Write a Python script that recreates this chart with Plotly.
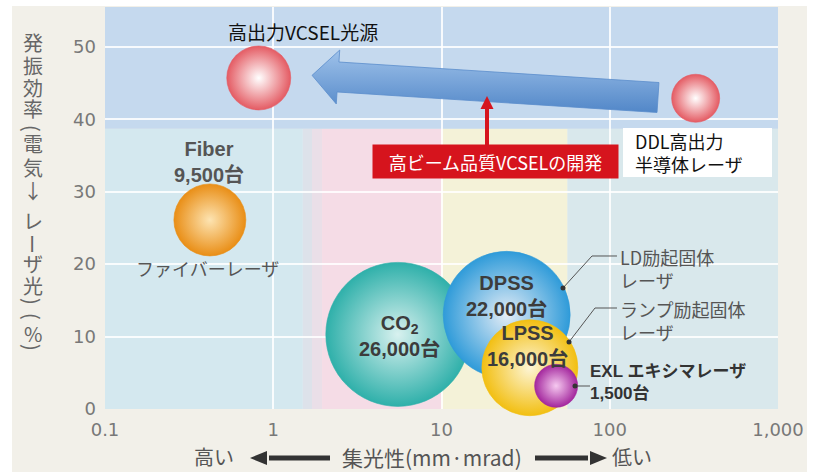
import math
import plotly.graph_objects as go

# ---- data -------------------------------------------------------------
names = ["高出力VCSEL光源", "DDL高出力半導体レーザ", "Fiber", "CO2", "DPSS", "LPSS", "EXL"]
beam_quality = [0.82, 324, 0.42, 5.5, 24.4, 33.5, 48]      # mm·mrad
efficiency = [45.7, 42.9, 26.1, 10.3, 13.0, 5.7, 3.2]      # %
units = [None, None, 9500, 26000, 22000, 16000, 1500]      # 台

x_tickvals = [0.1, 1, 10, 100, 1000]
x_ticktext = ["0.1", "1", "10", "100", "1,000"]
y_tickvals = [0, 10, 20, 30, 40, 50]

# ---- styling ----------------------------------------------------------
diameters = [64, 48, 72, 144, 127, 96, 43]
edge_colors = ["#e45b63", "#e45b63", "#e98e16", "#2fb0aa", "#2f9bd9", "#f2bf12", "#a3279d"]
core_colors = ["#ffffff", "#ffffff", "#fde4b2", "#d8f1ef", "#e3ecf6", "#fdf5d6", "#f6c9f0"]

W, H = 820, 472
L, R, T, B = 105, 42, 7, 63
PW, PH = W - L - R, H - T - B
XR = [-1, 3]
YR = [0, 55.5]

JP = "Noto Sans CJK JP"
MIX = "Liberation Sans, Noto Sans CJK JP"


def px_paper(px, py):
    return (px - L) / PW, (H - B - py) / PH


def px_data(px, py):
    lx = XR[0] + (px - L) / PW * (XR[1] - XR[0])
    return 10 ** lx, YR[0] + (H - B - py) / PH * (YR[1] - YR[0])


def xfrac(x):
    return (math.log10(x) - XR[0]) / (XR[1] - XR[0])


def path_of(points, close=False):
    pp = [px_paper(*p) for p in points]
    s = "M " + " L ".join(f"{a:.5f},{b:.5f}" for a, b in pp)
    return s + (" Z" if close else "")


fig = go.Figure()

# ---- big blue arrow (DDL -> VCSEL) -------------------------------------
tail = (658, 97.5)
base = (338, 77)
dx, dy = base[0] - tail[0], base[1] - tail[1]
ln = math.hypot(dx, dy)
ux, uy = dx / ln, dy / ln
nx, ny = -uy, ux
tip = (base[0] + ux * 26, base[1] + uy * 26)
sw, hw = 15, 27
poly = [
    (tail[0] + nx * sw, tail[1] + ny * sw),
    (base[0] + nx * sw, base[1] + ny * sw),
    (base[0] + nx * hw, base[1] + ny * hw),
    tip,
    (base[0] - nx * hw, base[1] - ny * hw),
    (base[0] - nx * sw, base[1] - ny * sw),
    (tail[0] - nx * sw, tail[1] - ny * sw),
]
poly.append(poly[0])
ax_pts = [px_data(*p) for p in poly]
fig.add_trace(go.Scatter(
    x=[p[0] for p in ax_pts], y=[p[1] for p in ax_pts],
    mode="lines", fill="toself", line=dict(color="#5a8dcc", width=0.8),
    fillgradient=dict(type="vertical",
                      colorscale=[[0, "#5287c8"], [1, "#9fc2ea"]]),
    hoverinfo="skip", showlegend=False,
))

# ---- bubbles -----------------------------------------------------------
for i in range(len(names)):
    fig.add_trace(go.Scatter(
        x=[beam_quality[i]], y=[efficiency[i]], mode="markers",
        marker=dict(size=diameters[i], color=edge_colors[i],
                    gradient=dict(type="radial", color=core_colors[i]),
                    line=dict(width=0.6, color=edge_colors[i]), opacity=1),
        name=names[i], showlegend=False, cliponaxis=False,
        hoverinfo="name",
    ))

# ---- background shapes -------------------------------------------------
shapes = []
x0, y0 = px_paper(12, 6)
x1, y1 = px_paper(807, 472)
shapes.append(dict(type="rect", xref="paper", yref="paper", x0=x0, x1=x1, y0=y1, y1=y0,
                   fillcolor="#f2f0e9", line=dict(width=0), layer="below"))
bands = [(0.1, 1.5, "#d4e8ef"), (1.5, 1.7, "#dde2ea"), (1.7, 1.95, "#eadfe8"),
         (1.95, 10, "#f5dce6"), (10, 56, "#f4f2d8"), (56, 1000, "#d9e8ec")]
for a, b, c in bands:
    shapes.append(dict(type="rect", xref="paper", yref="y", x0=xfrac(a), x1=xfrac(b),
                       y0=YR[0], y1=38.7, fillcolor=c, line=dict(width=0), layer="below"))
shapes.append(dict(type="rect", xref="paper", yref="y", x0=0, x1=1, y0=38.7, y1=YR[1],
                   fillcolor="#c5d9ee", line=dict(width=0), layer="below"))

# DDL white label box
bx0, by0 = px_paper(623, 128)
bx1, by1 = px_paper(772, 177)
shapes.append(dict(type="rect", xref="paper", yref="paper", x0=bx0, x1=bx1, y0=by1, y1=by0,
                   fillcolor="white", line=dict(width=0), layer="above"))

# leader lines to the solid-state labels
leaders = [[(563, 288), (592, 256), (617, 256)],
           [(569, 342), (595, 308), (617, 308)],
           [(575, 386), (590, 386)]]
for pts in leaders:
    shapes.append(dict(type="path", xref="paper", yref="paper", path=path_of(pts),
                       line=dict(color="#555555", width=1), layer="above"))
    cx, cy = pts[0]
    d0 = px_paper(cx - 2.5, cy + 2.5)
    d1 = px_paper(cx + 2.5, cy - 2.5)
    shapes.append(dict(type="circle", xref="paper", yref="paper", x0=d0[0], y0=d0[1],
                       x1=d1[0], y1=d1[1], fillcolor="#333333", line=dict(width=0),
                       layer="above"))

# red arrow from the development box up to the blue arrow
RED = "#d6141d"
shapes.append(dict(type="path", xref="paper", yref="paper",
                   path=path_of([(487, 146), (487, 106)]),
                   line=dict(color=RED, width=4), layer="above"))
shapes.append(dict(type="path", xref="paper", yref="paper",
                   path=path_of([(487, 96), (493.5, 109), (480.5, 109)], close=True),
                   fillcolor=RED, line=dict(width=0), layer="above"))

# direction arrows of the x-axis title
AY = 458
for tip_x, base_x, end_x in [(250, 267, 330), (607, 590, 535)]:
    shapes.append(dict(type="path", xref="paper", yref="paper",
                       path=path_of([(base_x + (2 if end_x > base_x else -2), AY),
                                     (end_x, AY)]),
                       line=dict(color="#333333", width=5)))
    shapes.append(dict(type="path", xref="paper", yref="paper",
                       path=path_of([(tip_x, AY), (base_x, AY - 7), (base_x, AY + 7)],
                                    close=True),
                       fillcolor="#333333", line=dict(width=0)))

# ---- annotations -------------------------------------------------------
ann = []


def lab(i, text, xs, ys, size, color="#3c3c3c", bold=False, xanchor="center",
        align="center", family=JP):
    t = f"<b>{text}</b>" if bold else text
    ann.append(dict(x=math.log10(beam_quality[i]), y=efficiency[i], xref="x", yref="y",
                    text=t, showarrow=False, xshift=xs, yshift=ys, xanchor=xanchor,
                    align=align, font=dict(family=family, size=size, color=color)))


lab(0, "高出力VCSEL光源", 44, 46, 19, "#111111")
lab(2, f"Fiber<br>{units[2]:,}台", -1, 58, 20, "#555555", True, family=MIX)
lab(2, "ファイバーレーザ", -2, -48, 18, "#555555")
lab(3, f"CO<sub>2</sub><br>{units[3]:,}台", 2, -2, 20, "#3c3c3c", True, family=MIX)
lab(4, f"DPSS<br>{units[4]:,}台", 0, 19, 20, "#3c3c3c", True, family=MIX)
lab(5, f"LPSS<br>{units[5]:,}台", -2, 22, 20, "#3c3c3c", True, family=MIX)
lab(6, f"EXL エキシマレーザ<br>{units[6]:,}台", 32, 3, 17, "#333333", True, "left", "left",
    family=MIX)


def ptext(px, py, text, size, color, xanchor="center", align="center", **kw):
    a, b = px_paper(px, py)
    d = dict(x=a, y=b, xref="paper", yref="paper", text=text, showarrow=False,
             xanchor=xanchor, yanchor="middle", align=align,
             font=dict(family=JP, size=size, color=color))
    d.update(kw)
    ann.append(d)


ptext(618, 268, "LD励起固体<br>レーザ", 18, "#555555", "left", "left")
ptext(618, 320, "ランプ励起固体<br>レーザ", 18, "#555555", "left", "left")
ptext(633, 152.5, "DDL高出力<br>半導体レーザ", 18, "#111111", "left", "left")
ptext(495.5, 161.5, "高ビーム品質VCSELの開発", 18, "#ffffff",
      bgcolor=RED, borderpad=0, width=245, height=33)

# vertical y-axis title: one glyph per line, brackets and long vowel turned
ytitle = [("発", 42, 0), ("振", 65, 0), ("効", 87, 0), ("率", 108, 0), ("(", 128, 90),
          ("電", 144, 0), ("気", 167, 0), ("↓", 190, 0), ("レ", 220, 0), ("ー", 244, 90),
          ("ザ", 263, 0), ("光", 285, 0), (")", 301, 90), ("(", 316, 90), ("%", 333, 0),
          (")", 347, 90)]
for ch, yy, ang in ytitle:
    ptext(33, yy, ch, 20, "#666666", textangle=ang)

# x-axis title
ptext(214, 457, "高い", 20, "#555555")
ptext(432, 457, "集光性(mm·mrad)", 21, "#555555")
ptext(632, 457, "低い", 20, "#555555")

fig.update_layout(
    width=W, height=H,
    margin=dict(l=L, r=R, t=T, b=B, pad=0),
    paper_bgcolor="white", plot_bgcolor="rgba(0,0,0,0)",
    shapes=shapes, annotations=ann, showlegend=False,
    xaxis=dict(type="log", range=XR, tickvals=x_tickvals, ticktext=x_ticktext,
               showgrid=True, gridcolor="rgba(255,255,255,0.85)", gridwidth=1.5,
               zeroline=False, showline=False, ticks="", ticklabelstandoff=8,
               tickfont=dict(family="DejaVu Sans", size=18, color="#787878")),
    yaxis=dict(range=YR, tickvals=y_tickvals, showgrid=True,
               gridcolor="rgba(255,255,255,0.85)", gridwidth=1.5,
               zeroline=False, showline=False, ticks="", ticklabelstandoff=8,
               tickfont=dict(family="DejaVu Sans", size=18, color="#787878")),
)

fig.write_html("out.html")
